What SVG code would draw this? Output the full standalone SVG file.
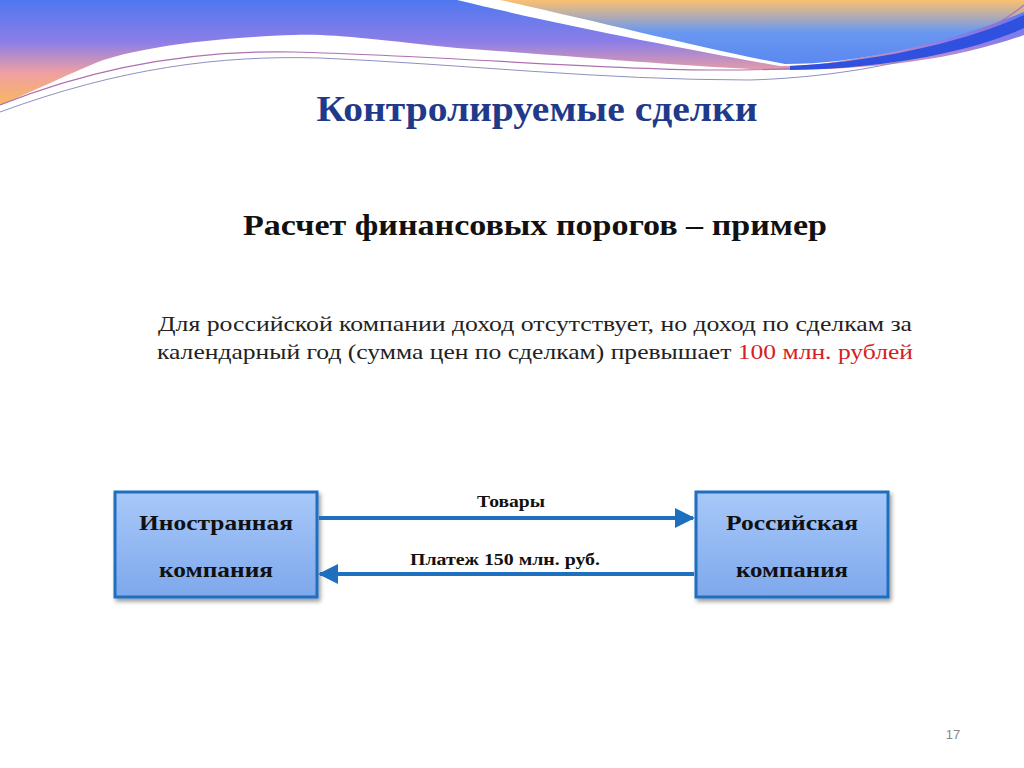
<svg xmlns="http://www.w3.org/2000/svg" width="1024" height="768" viewBox="0 0 1024 768">
<defs>
<linearGradient id="g1" x1="0" y1="0" x2="0" y2="1"><stop offset="0" stop-color="#4f78f0"/><stop offset="0.4" stop-color="#8c7ee8"/><stop offset="0.7" stop-color="#f0a0a0"/><stop offset="1" stop-color="#f8b860"/></linearGradient>
<linearGradient id="g2" x1="0" y1="0" x2="0" y2="1"><stop offset="0" stop-color="#fbc070"/><stop offset="0.5" stop-color="#6a98f0"/><stop offset="1" stop-color="#5a88f0"/></linearGradient>
<linearGradient id="box" x1="0" y1="0" x2="0" y2="1"><stop offset="0" stop-color="#a8c8f8"/><stop offset="1" stop-color="#7ea8ec"/></linearGradient>
<marker id="ah" viewBox="0 0 10 10" refX="9" refY="5" markerWidth="5" markerHeight="5" orient="auto-start-reverse" markerUnits="strokeWidth"><path d="M0,0 L10,5 L0,10 Z" fill="#1f6fbf"/></marker>
<filter id="sh" x="-10%" y="-10%" width="130%" height="140%"><feDropShadow dx="2" dy="3" stdDeviation="2" flood-color="#000" flood-opacity="0.4"/></filter>
<style>
.t{font-family:"Liberation Serif",serif;}
.b{font-family:"Liberation Serif",serif;font-weight:bold;fill:#111;text-anchor:middle;}
</style>
</defs>
<rect width="1024" height="768" fill="#fff"/>
<g id="decor">
<path d="M0,0 L1024,0 L1024,35 C960,58 880,70 784,70 C700,68 600,58 457,48 C380,40 330,33 294,35 C200,38 130,50 98,62 C60,78 25,95 0,105 Z" fill="url(#g1)"/>
<path d="M457,0 L1024,0 L1024,10 C950,40 850,66 780,66 C690,50 560,25 457,0 Z" fill="#fff"/>
<path d="M500,0 L1024,0 L1024,12 C950,42 860,64 785,64 C700,48 600,22 500,0 Z" fill="url(#g2)"/>
<path d="M0,105 C100,65 200,50 294,52 C450,56 600,70 719,70 C800,70 870,65 900,58 C960,45 1000,25 1024,5" fill="none" stroke="#b070b0" stroke-width="1.2"/>
<path d="M0,112 C120,68 220,55 320,58 C460,64 600,80 750,80 C880,76 970,45 1024,22" fill="none" stroke="#9090c0" stroke-width="1"/>
<path d="M790,66 C900,60 980,35 1024,15 L1024,28 C980,48 900,68 790,70 Z" fill="#3050e0"/>
</g>
<text class="t" x="537" y="121" font-size="35" font-weight="bold" fill="#1f3a8a" text-anchor="middle" textLength="441" lengthAdjust="spacingAndGlyphs">Контролируемые сделки</text>
<text class="t" x="535" y="235" font-size="30" font-weight="bold" fill="#111" text-anchor="middle" textLength="584" lengthAdjust="spacingAndGlyphs">Расчет финансовых порогов – пример</text>
<text class="t" x="535" y="331" font-size="22" fill="#222" text-anchor="middle" textLength="754" lengthAdjust="spacingAndGlyphs">Для российской компании доход отсутствует, но доход по сделкам за</text>
<text class="t" x="535" y="359" font-size="22" fill="#222" text-anchor="middle" textLength="756" lengthAdjust="spacingAndGlyphs">календарный год (сумма цен по сделкам) превышает <tspan fill="#d42020">100 млн. рублей</tspan></text>
<g id="n1"><rect x="115" y="492" width="202" height="105" fill="url(#box)" stroke="#1f6fbf" stroke-width="3" filter="url(#sh)"/>
<text class="b" x="216" y="530" font-size="22" textLength="154" lengthAdjust="spacingAndGlyphs">Иностранная</text><text class="b" x="216" y="577" font-size="22" textLength="114" lengthAdjust="spacingAndGlyphs">компания</text></g>
<g id="n2"><rect x="696" y="492" width="192" height="105" fill="url(#box)" stroke="#1f6fbf" stroke-width="3" filter="url(#sh)"/>
<text class="b" x="792" y="530" font-size="22" textLength="132" lengthAdjust="spacingAndGlyphs">Российская</text><text class="b" x="792" y="577" font-size="22" textLength="112" lengthAdjust="spacingAndGlyphs">компания</text></g>
<g id="connectors">
<line x1="319" y1="518" x2="693" y2="518" stroke="#1f6fbf" stroke-width="4" marker-end="url(#ah)"/>
<line x1="694" y1="574" x2="320" y2="574" stroke="#1f6fbf" stroke-width="4" marker-end="url(#ah)"/>
<text class="b" x="511" y="507" font-size="17" textLength="68" lengthAdjust="spacingAndGlyphs">Товары</text>
<text class="b" x="505" y="565" font-size="17" textLength="190" lengthAdjust="spacingAndGlyphs">Платеж 150 млн. руб.</text>
</g>
<text x="953" y="739" font-family="Liberation Sans,sans-serif" font-size="13" fill="#888" text-anchor="middle">17</text>
</svg>
